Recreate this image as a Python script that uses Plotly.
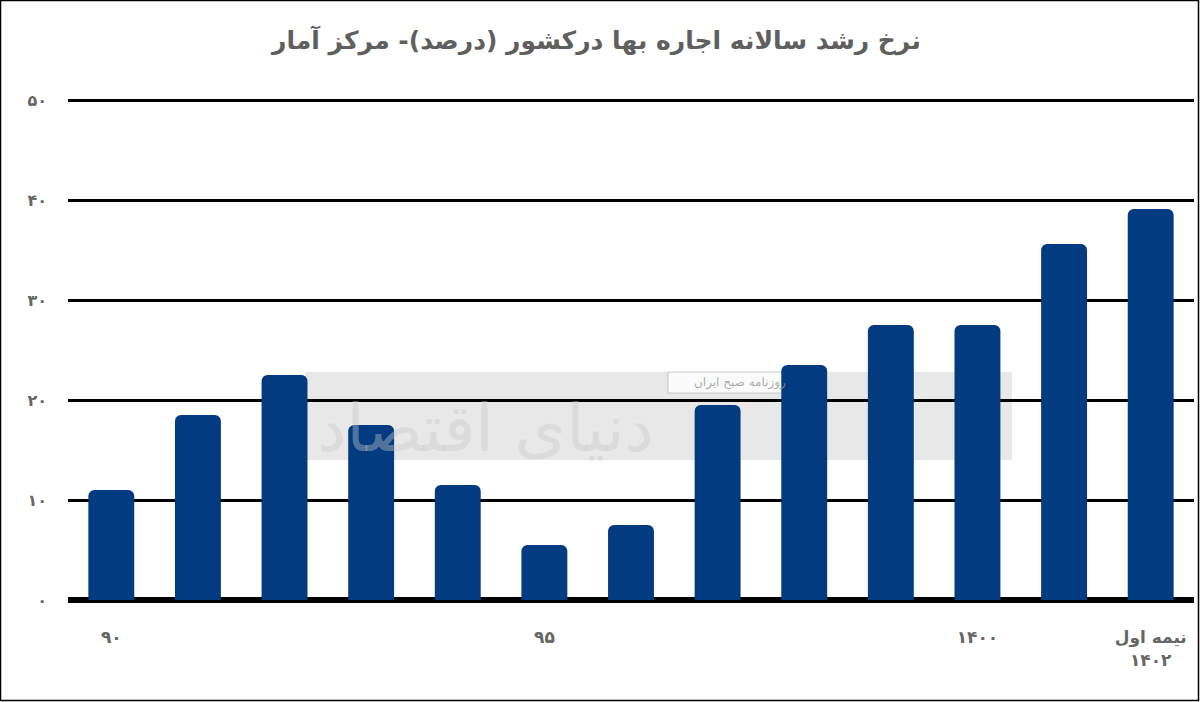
import plotly.graph_objects as go

# ---- data ----
categories = ["۹۰", "۹۱", "۹۲", "۹۳", "۹۴", "۹۵", "۹۶", "۹۷", "۹۸", "۹۹",
              "۱۴۰۰", "۱۴۰۱", "نیمه اول ۱۴۰۲"]
growth_rate = [11.0, 18.5, 22.5, 17.5, 11.5, 5.5, 7.5, 19.5, 23.5, 27.5, 27.5, 35.6, 39.1]

x_tick_vals = ["۹۰", "۹۵", "۱۴۰۰", "نیمه اول ۱۴۰۲"]
x_tick_text = ["۹۰", "۹۵", "۱۴۰۰", "نیمه اول<br>۱۴۰۲"]
y_tick_vals = [0, 10, 20, 30, 40, 50]
y_tick_text = ["۰", "۱۰", "۲۰", "۳۰", "۴۰", "۵۰"]

title_text = "نرخ رشد سالانه اجاره بها درکشور (درصد)- مرکز آمار"

W, H = 1200, 702
L, R, T, B = 68, 6, 96, 102
pw, ph = W - L - R, H - T - B

def px_x(p):
    return (p - L) / pw

def px_y(p):
    return 1 - (p - T) / ph

fig = go.Figure()
fig.add_trace(go.Bar(
    x=categories, y=growth_rate,
    marker=dict(color="#033b80", cornerradius=6, line=dict(width=0)),
    hoverinfo="x+y",
))

font_main = "DejaVu Sans"
fig.update_layout(
    width=W, height=H,
    margin=dict(l=L, r=R, t=T, b=B),
    paper_bgcolor="white", plot_bgcolor="white",
    bargap=0.47,
    showlegend=False,
    title=dict(text="<b>" + title_text + "</b>", x=0.497, xanchor="center",
               y=1 - 40 / H, yanchor="middle",
               font=dict(family=font_main, size=25, color="#5f5f5f")),
    xaxis=dict(
        type="category",
        tickmode="array", tickvals=x_tick_vals, ticktext=x_tick_text,
        showgrid=False, showline=False, zeroline=False,
        ticks="outside", ticklen=0, ticklabelstandoff=22,
        tickfont=dict(family=font_main, size=17, color="#666666", weight="bold"),
        range=[-0.5, 12.5],
    ),
    yaxis=dict(
        range=[0, 50.4],
        tickmode="array", tickvals=y_tick_vals, ticktext=y_tick_text,
        showgrid=True, gridcolor="black", gridwidth=2.5,
        zeroline=True, zerolinecolor="black", zerolinewidth=6,
        showline=False, ticks="", ticklabelstandoff=20,
        tickfont=dict(family=font_main, size=16, color="#666666", weight="bold"),
    ),
)

# faint watermark band
fig.add_shape(type="rect", xref="paper", yref="paper",
              x0=px_x(305), x1=px_x(1012), y0=px_y(460), y1=px_y(372),
              fillcolor="rgba(190,190,190,0.35)", line=dict(width=0), layer="below")
fig.add_shape(type="rect", xref="paper", yref="paper",
              x0=px_x(668), x1=px_x(812), y0=px_y(393), y1=px_y(372),
              fillcolor="rgba(255,255,255,0.8)", line=dict(color="rgba(170,170,170,0.6)", width=1),
              layer="below")
fig.add_annotation(xref="paper", yref="paper", x=px_x(740), y=px_y(382),
                   text="روزنامه صبح ایران", showarrow=False,
                   font=dict(family=font_main, size=12, color="rgba(150,150,150,0.8)"))
fig.add_annotation(xref="paper", yref="paper", x=px_x(485), y=px_y(428),
                   text="دنیای اقتصاد", showarrow=False,
                   font=dict(family=font_main, size=66, color="rgba(200,200,200,0.4)"))

# outer frame
fig.add_shape(type="rect", xref="paper", yref="paper",
              x0=px_x(0.5), x1=px_x(1198.5), y0=px_y(700.5), y1=px_y(0.5),
              line=dict(color="black", width=1.5), fillcolor="rgba(0,0,0,0)", layer="above")

fig.write_html("out.html", config={"displayModeBar": False},
               post_script="document.body.style.margin='0';document.body.style.padding='0';")
